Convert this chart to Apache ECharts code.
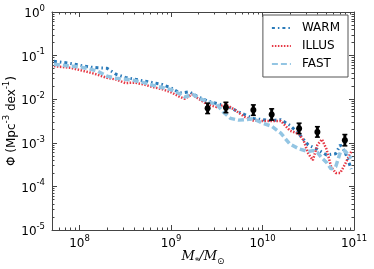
<!DOCTYPE html>
<html>
<head>
<meta charset="utf-8">
<script src="https://cdn.jsdelivr.net/npm/echarts@6/dist/echarts.min.js"></script>
<style>
html,body{margin:0;padding:0;background:#fff;}
#chart{width:374px;height:269px;}
</style>
</head>
<body>
<div id="chart"></div>
<script>
// ---- data (log10 stellar mass, log10 Phi) ----
const seriesNames = ['WARM', 'ILLUS', 'FAST'];

const warmLogM = [7.72,7.8,7.9,8.0,8.1,8.2,8.3,8.4,8.5,8.6,8.7,8.8,8.9,9.0,9.1,9.2,9.3,9.4,9.5,9.6,9.7,9.8,9.9,10.0,10.1,10.2,10.3,10.4,10.5,10.6,10.7,10.8,10.85,10.9,10.97];
const warmLogPhi = [-1.13,-1.15,-1.18,-1.22,-1.26,-1.28,-1.29,-1.43,-1.50,-1.54,-1.58,-1.62,-1.66,-1.74,-1.86,-1.83,-1.95,-2.04,-2.10,-2.15,-2.25,-2.35,-2.44,-2.47,-2.49,-2.47,-2.60,-2.80,-3.05,-3.15,-3.28,-3.25,-3.05,-3.20,-3.60];

const illusLogM = [7.72,7.8,7.9,8.0,8.1,8.2,8.3,8.4,8.5,8.6,8.7,8.8,8.9,9.0,9.1,9.15,9.23,9.3,9.4,9.5,9.6,9.7,9.8,9.9,10.0,10.1,10.2,10.3,10.4,10.45,10.5,10.55,10.6,10.65,10.7,10.75,10.8,10.85,10.9,10.97];
const illusLogPhi = [-1.24,-1.26,-1.28,-1.33,-1.38,-1.44,-1.51,-1.55,-1.63,-1.62,-1.66,-1.72,-1.77,-1.84,-1.95,-1.99,-1.89,-1.99,-2.12,-2.18,-2.12,-2.25,-2.40,-2.49,-2.50,-2.50,-2.50,-2.72,-2.80,-2.95,-3.25,-3.40,-3.05,-2.92,-3.15,-3.55,-3.69,-3.69,-3.50,-3.20];

const fastLogM = [7.72,7.8,7.9,8.0,8.1,8.2,8.3,8.4,8.5,8.6,8.7,8.8,8.9,9.0,9.1,9.15,9.24,9.3,9.4,9.5,9.57,9.65,9.74,9.9,10.0,10.1,10.2,10.3,10.4,10.5,10.55,10.6,10.65,10.7,10.75,10.8,10.85,10.9,10.97];
const fastLogPhi = [-1.20,-1.22,-1.24,-1.26,-1.30,-1.36,-1.47,-1.52,-1.54,-1.57,-1.62,-1.68,-1.73,-1.78,-1.88,-1.95,-1.89,-1.97,-2.06,-2.12,-2.29,-2.44,-2.48,-2.45,-2.55,-2.62,-2.78,-3.03,-3.14,-3.20,-3.18,-3.22,-3.35,-3.45,-3.60,-3.55,-3.22,-3.18,-3.36];

// observations with error bars (dex)
const obsLogM = [9.4, 9.6, 9.9, 10.1, 10.4, 10.6, 10.9];
const obsLogPhi = [-2.21, -2.19, -2.25, -2.35, -2.67, -2.75, -2.94];
const obsErr = [0.12, 0.12, 0.12, 0.13, 0.12, 0.12, 0.13];

// axis ticks
const xMajorTicks = [1e8, 1e9, 1e10, 1e11];
const yMajorTicks = [1e-5, 1e-4, 1e-3, 1e-2, 1e-1, 1];
const xRange = [5e7, 1e11];
const yRange = [1e-5, 1];

// ---- build ----
function toPairs(lm, lp) { return lm.map((m, i) => [Math.pow(10, m), Math.pow(10, lp[i])]); }
function minorsBetween(lo, hi) {
  const out = [];
  for (let e = Math.floor(Math.log10(lo)); e <= Math.ceil(Math.log10(hi)); e++) {
    for (let k = 2; k <= 9; k++) {
      const v = k * Math.pow(10, e);
      if (v >= lo && v <= hi) out.push(v);
    }
  }
  return out;
}
const xMinorTicks = minorsBetween(xRange[0], xRange[1]);
const yMinorTicks = minorsBetween(yRange[0], yRange[1]);
const obsData = obsLogM.map((m, i) => [Math.pow(10, m), Math.pow(10, obsLogPhi[i]), Math.pow(10, obsLogPhi[i] - obsErr[i]), Math.pow(10, obsLogPhi[i] + obsErr[i])]);

const FONT = 'DejaVu Sans';
const frameColor = '#444';
function powLabel(v) {
  const e = Math.round(Math.log10(v));
  return '{b|10}{s|' + (e < 0 ? '-' + (-e) : e) + '}';
}
const labelRich = {
  b: { fontFamily: FONT, fontSize: 12, color: '#000', lineHeight: 16, verticalAlign: 'bottom' },
  s: { fontFamily: FONT, fontSize: 8.5, color: '#000', lineHeight: 16, verticalAlign: 'top', padding: [0, 0, 6, 0] }
};

function xAx(pos, minor, withLabel) {
  return {
    type: 'log', gridIndex: 0, position: pos, min: xRange[0], max: xRange[1],
    axisLine: { show: !minor, lineStyle: { color: frameColor, width: 1 } },
    axisTick: { show: true, inside: true, length: minor ? 2.5 : 5, customValues: minor ? xMinorTicks : xMajorTicks, lineStyle: { color: frameColor } },
    axisLabel: { show: !!withLabel, customValues: xMajorTicks, formatter: powLabel, rich: labelRich, margin: 4 },
    splitLine: { show: false }, minorTick: { show: false }
  };
}
function yAx(pos, minor, withLabel) {
  return {
    type: 'log', gridIndex: 0, position: pos, min: yRange[0], max: yRange[1],
    axisLine: { show: !minor, lineStyle: { color: frameColor, width: 1 } },
    axisTick: { show: true, inside: true, length: minor ? 2.5 : 5, customValues: minor ? yMinorTicks : yMajorTicks, lineStyle: { color: frameColor } },
    axisLabel: { show: !!withLabel, customValues: yMajorTicks, formatter: powLabel, rich: labelRich, margin: 7 },
    splitLine: { show: false }, minorTick: { show: false }
  };
}

const xMain = xAx('bottom', false, true);
xMain.name = '{i|M}{u|*}{i|/M}{u|⊙}';
xMain.nameLocation = 'middle';
xMain.nameGap = 20;
xMain.nameMoveOverlap = false;
xMain.nameTextStyle = {
  rich: {
    i: { fontFamily: 'DejaVu Serif', fontStyle: 'italic', fontSize: 13, color: '#000', lineHeight: 16, verticalAlign: 'top' },
    u: { fontFamily: 'DejaVu Sans', fontSize: 9, color: '#000', lineHeight: 16, verticalAlign: 'bottom', padding: [4, 0, 0, 0] }
  }
};
const yMain = yAx('left', false, true);
yMain.name = '{t|Φ (Mpc}{s|-3}{t| dex}{s|-1}{t|)}';
yMain.nameLocation = 'middle';
yMain.nameGap = 34;
yMain.nameRotate = 90;
yMain.nameMoveOverlap = false;
yMain.nameTextStyle = {
  rich: {
    t: { fontFamily: FONT, fontSize: 12, color: '#000', lineHeight: 16, verticalAlign: 'bottom' },
    s: { fontFamily: FONT, fontSize: 8.5, color: '#000', lineHeight: 16, verticalAlign: 'top', padding: [0, 0, 6, 0] }
  }
};

const lineBase = { type: 'line', xAxisIndex: 0, yAxisIndex: 0, showSymbol: false, symbol: 'none', smooth: false, clip: true, z: 3 };

const option = {
  animation: false,
  backgroundColor: '#fff',
  grid: { left: 52, right: 20, top: 12, bottom: 39, containLabel: false, outerBoundsMode: 'none' },
  xAxis: [xMain, xAx('bottom', true), xAx('top', false), xAx('top', true)],
  yAxis: [yMain, yAx('left', true), yAx('right', false), yAx('right', true)],
  legend: {
    data: seriesNames,
    orient: 'vertical', right: 26, top: 15,
    padding: [7, 8, 7, 8], itemGap: 6, itemWidth: 19, itemHeight: 12,
    borderColor: '#555', borderWidth: 1, borderRadius: 0, backgroundColor: '#fff',
    itemStyle: { opacity: 0 },
    textStyle: { fontFamily: FONT, fontSize: 12, color: '#000', padding: [0, 0, 0, 6] }
  },
  series: [
    Object.assign({}, lineBase, { name: 'WARM', data: toPairs(warmLogM, warmLogPhi),
      lineStyle: { color: '#2a7ab9', width: 3, type: [3, 3, 1.5, 3], cap: 'butt' }, itemStyle: { color: '#2a7ab9' } }),
    Object.assign({}, lineBase, { name: 'ILLUS', data: toPairs(illusLogM, illusLogPhi),
      lineStyle: { color: '#e63946', width: 2.5, type: [1.5, 1.5], cap: 'butt' }, itemStyle: { color: '#e63946' } }),
    Object.assign({}, lineBase, { name: 'FAST', data: toPairs(fastLogM, fastLogPhi),
      lineStyle: { color: '#93c5e3', width: 3.5, type: [6, 3], cap: 'butt' }, itemStyle: { color: '#93c5e3' } }),
    {
      type: 'custom', name: 'obs', xAxisIndex: 0, yAxisIndex: 0, z: 5,
      encode: { x: 0, y: [1, 2, 3] },
      data: obsData,
      renderItem: function (params, api) {
        const x = api.value(0), y = api.value(1), lo = api.value(2), hi = api.value(3);
        const pc = api.coord([x, y]), pl = api.coord([x, lo]), ph = api.coord([x, hi]);
        const st = { stroke: '#000', lineWidth: 3 };
        return { type: 'group', children: [
          { type: 'line', shape: { x1: pl[0], y1: pl[1], x2: ph[0], y2: ph[1] }, style: st },
          { type: 'line', shape: { x1: pl[0] - 2.5, y1: pl[1], x2: pl[0] + 2.5, y2: pl[1] }, style: { stroke: '#000', lineWidth: 1.5 } },
          { type: 'line', shape: { x1: ph[0] - 2.5, y1: ph[1], x2: ph[0] + 2.5, y2: ph[1] }, style: { stroke: '#000', lineWidth: 1.5 } },
          { type: 'circle', shape: { cx: pc[0], cy: pc[1], r: 3 }, style: { fill: '#000' } }
        ] };
      }
    }
  ]
};

const chart = echarts.init(document.getElementById('chart'), null, { renderer: 'canvas', width: 374, height: 269 });
chart.setOption(option);
</script>
</body>
</html>
